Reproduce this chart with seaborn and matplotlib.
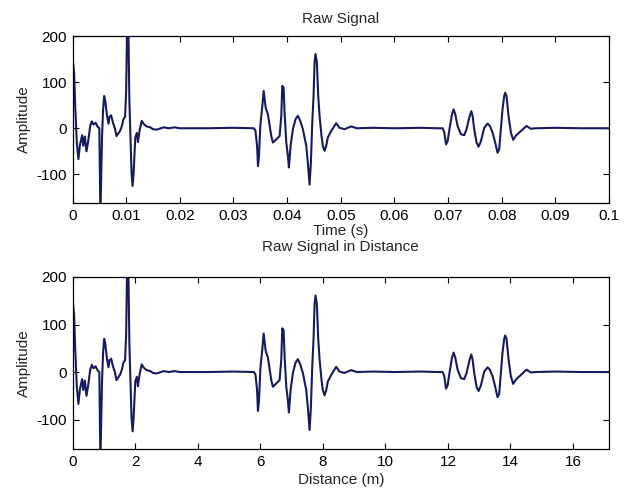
import matplotlib
matplotlib.use("Agg")
import matplotlib.pyplot as plt
import seaborn as sns
import pandas as pd

# ---- data ----
time_s = [
    0.0000, 0.0003, 0.0005, 0.0008, 0.0011, 0.0014, 0.0018, 0.0020, 0.0023, 0.0026,
    0.0029, 0.0033, 0.0036, 0.0039, 0.0043, 0.0047, 0.0050, 0.0052, 0.0055, 0.0057,
    0.0059, 0.0061, 0.0064, 0.0067, 0.0069, 0.0072, 0.0076, 0.0079, 0.0082, 0.0085,
    0.0089, 0.0092, 0.0095, 0.0098, 0.0100, 0.0102, 0.0104, 0.0106, 0.0108, 0.0110,
    0.0112, 0.0114, 0.0117, 0.0120, 0.0122, 0.0125, 0.0129, 0.0133, 0.0138, 0.0145,
    0.0150, 0.0157, 0.0170, 0.0180, 0.0190, 0.0200, 0.0250, 0.0300, 0.0338,
    0.0341, 0.0344, 0.03457, 0.03476, 0.03501, 0.03538, 0.03563, 0.03581, 0.0360, 0.03643,
    0.03674, 0.03705, 0.03736, 0.03799, 0.0386, 0.03892, 0.0391, 0.03935, 0.03953, 0.03985,
    0.04015, 0.04034, 0.04065, 0.04108, 0.04158, 0.04201, 0.04245, 0.04294, 0.04357, 0.04387,
    0.04419, 0.04443, 0.04469, 0.04493, 0.04512, 0.0453, 0.04555, 0.0458, 0.04605, 0.04642,
    0.04666, 0.04698, 0.04729, 0.04759, 0.04822, 0.04915, 0.04977, 0.0507, 0.05194, 0.0530,
    0.0560, 0.0600, 0.0650, 0.0680,
    0.0690, 0.0693, 0.06962, 0.06992, 0.07036, 0.07073, 0.07104, 0.07135, 0.07178, 0.0724,
    0.07302, 0.07345, 0.07395, 0.07433, 0.07457, 0.07488, 0.07531, 0.07569, 0.07613, 0.07674,
    0.07736, 0.0778, 0.07829, 0.07879, 0.07922, 0.07953, 0.07985, 0.08015, 0.08047, 0.08065,
    0.0809, 0.08127, 0.08171, 0.08214, 0.08264, 0.08357, 0.08462, 0.08543, 0.08636, 0.0900,
    0.0950, 0.1000,
]
amplitude = [
    155, 120, 50, -30, -67, -35, -15, -38, -18, -50,
    -30, 5, 15, 8, 12, 3, 0, -190, -20, 40,
    70, 60, 30, 10, 25, 28, 10, 0, -17, -12,
    -5, 5, 20, 25, 80, 240, 230, 60, -20, -95,
    -125, -95, -20, -10, -30, -5, 16, 9, 4, 2,
    -2, -3, 2, 0, 2, 0, 0, 1, 0,
    -5, -38, -82, -60, 6, 48, 81, 63, 45, 30,
    6, -17, -31, -24, -17, 27, 92, 88, 34, -31,
    -60, -85, -38, -2, 20, 27, 16, -2, -38, -75,
    -122, -75, 12, 70, 143, 161, 143, 70, 27, -17,
    -38, -49, -38, -20, -6, 11, 1, -2, 4, 0,
    1, 0, 1, 0,
    0, -9, -35, -28, 5, 30, 41, 30, 5, -13,
    -15, -2, 23, 37, 27, -2, -31, -40, -28, 1,
    10, 5, -9, -31, -53, -46, -2, 41, 70, 77,
    70, 27, -9, -25, -16, -6, 5, -1, 0, 1,
    0, 0,
]
half_sound_speed = 343.0 / 2.0   # m/s, two-way travel -> distance
time_ticks = [0, 0.01, 0.02, 0.03, 0.04, 0.05, 0.06, 0.07, 0.08, 0.09, 0.1]
time_tick_labels = ["0", "0.01", "0.02", "0.03", "0.04", "0.05", "0.06", "0.07", "0.08", "0.09", "0.1"]
dist_ticks = [0, 2, 4, 6, 8, 10, 12, 14, 16]
amp_ticks = [-100, 0, 100, 200]

df = pd.DataFrame({"time": time_s, "amp": amplitude})
df["dist"] = df["time"] * half_sound_speed

sns.set_style("ticks")
plt.rcParams["font.family"] = ["Liberation Sans", "DejaVu Sans"]
plt.rcParams["axes.unicode_minus"] = False

fig = plt.figure(figsize=(6.29, 4.93), dpi=100)
W, H = 629, 493
def frac(l, r, t, b):
    return [l / W, 1 - b / H, (r - l) / W, (b - t) / H]

ax1 = fig.add_axes(frac(72.5, 609, 36, 203))
ax2 = fig.add_axes(frac(72.5, 609, 277, 449))

line_color = "#161b5e"
fs = 11

sns.lineplot(data=df, x="time", y="amp", ax=ax1, color=line_color, linewidth=1.5,
             estimator=None, sort=False)
sns.lineplot(data=df, x="dist", y="amp", ax=ax2, color=line_color, linewidth=1.5,
             estimator=None, sort=False)

ax1.set_xlim(0, 0.1)
ax1.set_xticks(time_ticks)
ax1.set_xticklabels(time_tick_labels)
ax2.set_xlim(0, 0.1 * half_sound_speed)
ax2.set_xticks(dist_ticks)
ax2.set_xticklabels([str(t) for t in dist_ticks])

for ax in (ax1, ax2):
    ax.set_ylim(-162, 200)
    ax.set_yticks(amp_ticks)
    ax.set_yticklabels([str(t) for t in amp_ticks])
    ax.tick_params(direction="in", top=True, right=True, length=4, width=0.8,
                   labelsize=fs, colors="black", pad=4)
    for s in ax.spines.values():
        s.set_visible(True)
        s.set_color("black")
        s.set_linewidth(0.9)
    ax.set_ylabel("Amplitude", fontsize=fs, labelpad=4)
    ax.set_facecolor("white")

ax1.set_title("Raw Signal", fontsize=fs, pad=9)
ax1.set_xlabel("Time (s)", fontsize=fs, labelpad=1)
ax2.set_title("Raw Signal in Distance", fontsize=fs, pad=19)
ax2.set_xlabel("Distance (m)", fontsize=fs, labelpad=3)

fig.savefig("out.png", dpi=100, facecolor="white")
